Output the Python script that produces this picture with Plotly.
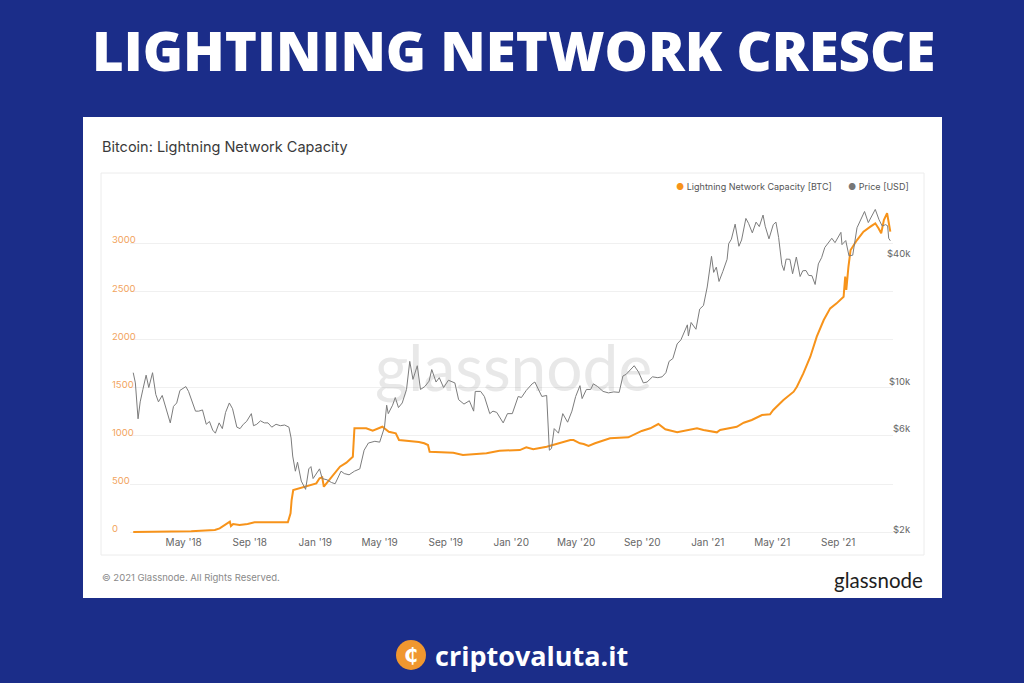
import math
import plotly.graph_objects as go

# ---------------- data ----------------
ln_dates = [
    "2018-01-27", "2018-02-20", "2018-03-15", "2018-04-14", "2018-05-15", "2018-06-10",
    "2018-06-28", "2018-07-07", "2018-07-16", "2018-07-26", "2018-07-28", "2018-08-01",
    "2018-08-13", "2018-08-28", "2018-09-10", "2018-09-29", "2018-10-20", "2018-11-11",
    "2018-11-16", "2018-11-18", "2018-11-21", "2018-12-03", "2018-12-16", "2019-01-03",
    "2019-01-09", "2019-01-14", "2019-01-17", "2019-01-22", "2019-02-03", "2019-02-16",
    "2019-02-28", "2019-03-12", "2019-03-15", "2019-04-06", "2019-04-18", "2019-05-06",
    "2019-05-18", "2019-05-31", "2019-06-06", "2019-07-13", "2019-07-23", "2019-07-30",
    "2019-08-02", "2019-09-15", "2019-10-03", "2019-11-16", "2019-12-10", "2020-01-17",
    "2020-01-29", "2020-02-11", "2020-03-07", "2020-04-01", "2020-04-20", "2020-04-26",
    "2020-05-08", "2020-05-15", "2020-05-24", "2020-06-05", "2020-07-03", "2020-08-06",
    "2020-08-31", "2020-09-16", "2020-10-01", "2020-10-14", "2020-11-05", "2020-12-12",
    "2020-12-24", "2021-01-18", "2021-01-24", "2021-02-24", "2021-03-09", "2021-03-24",
    "2021-04-12", "2021-04-27", "2021-05-03", "2021-05-22", "2021-06-10", "2021-06-16",
    "2021-06-28", "2021-07-11", "2021-07-23", "2021-08-05", "2021-08-17", "2021-08-29",
    "2021-09-11", "2021-09-14", "2021-09-16", "2021-09-20", "2021-09-24", "2021-10-06",
    "2021-10-18", "2021-10-31", "2021-11-09", "2021-11-15", "2021-11-20", "2021-11-25",
    "2021-12-01", "2021-12-07",
]
ln_values = [
    3, 4, 5, 7, 12, 18,
    24, 41, 76, 110, 65, 86,
    76, 86, 104, 104, 106, 104,
    197, 335, 439, 457, 473, 508,
    561, 571, 473, 508, 595, 681,
    723, 785, 1080, 1080, 1055, 1096,
    1044, 1028, 958, 938, 924, 906,
    837, 826, 802, 820, 847, 854,
    882, 862, 889, 930, 958, 958,
    924, 917, 896, 924, 976, 986,
    1052, 1080, 1124, 1069, 1038, 1080,
    1062, 1038, 1062, 1096, 1138, 1166,
    1218, 1225, 1270, 1373, 1460, 1511,
    1650, 1823, 2031, 2204, 2325, 2377,
    2446, 2654, 2516, 2757, 2931, 3034,
    3121, 3173, 3208, 3156, 3104, 3242,
    3312, 3121,
]

price_dates = [
    "2018-01-27", "2018-01-31", "2018-02-05", "2018-02-09", "2018-02-14", "2018-02-20",
    "2018-02-25", "2018-03-04", "2018-03-10", "2018-03-15", "2018-03-22", "2018-03-28",
    "2018-04-06", "2018-04-12", "2018-04-18", "2018-04-24", "2018-05-05", "2018-05-10",
    "2018-05-16", "2018-05-23", "2018-05-29", "2018-06-05", "2018-06-12", "2018-06-18",
    "2018-06-24", "2018-06-29", "2018-07-06", "2018-07-12", "2018-07-18", "2018-07-25",
    "2018-07-31", "2018-08-08", "2018-08-14", "2018-08-20", "2018-08-26", "2018-09-04",
    "2018-09-08", "2018-09-14", "2018-09-21", "2018-09-28", "2018-10-05", "2018-10-12",
    "2018-10-20", "2018-10-28", "2018-11-05", "2018-11-13", "2018-11-17", "2018-11-20",
    "2018-11-25", "2018-11-29", "2018-12-06", "2018-12-14", "2018-12-20", "2018-12-24",
    "2018-12-28", "2019-01-05", "2019-01-09", "2019-01-14", "2019-01-23", "2019-01-31",
    "2019-02-07", "2019-02-18", "2019-02-24", "2019-03-05", "2019-03-15", "2019-03-25",
    "2019-04-02", "2019-04-10", "2019-04-22", "2019-05-01", "2019-05-10", "2019-05-14",
    "2019-05-17", "2019-05-25", "2019-05-30", "2019-06-05", "2019-06-12", "2019-06-20",
    "2019-06-26", "2019-07-02", "2019-07-10", "2019-07-16", "2019-07-24", "2019-08-01",
    "2019-08-06", "2019-08-14", "2019-08-20", "2019-08-28", "2019-09-06", "2019-09-18",
    "2019-09-25", "2019-10-05", "2019-10-15", "2019-10-23", "2019-10-26", "2019-11-05",
    "2019-11-12", "2019-11-22", "2019-11-28", "2019-12-05", "2019-12-17", "2019-12-25",
    "2020-01-03", "2020-01-14", "2020-01-20", "2020-01-29", "2020-02-09", "2020-02-14",
    "2020-02-20", "2020-02-27", "2020-03-07", "2020-03-12", "2020-03-16", "2020-03-21",
    "2020-03-29", "2020-04-06", "2020-04-15", "2020-04-23", "2020-04-30", "2020-05-08",
    "2020-05-12", "2020-05-20", "2020-05-28", "2020-06-02", "2020-06-10", "2020-06-20",
    "2020-06-30", "2020-07-10", "2020-07-20", "2020-07-27", "2020-08-02", "2020-08-17",
    "2020-08-25", "2020-09-03", "2020-09-10", "2020-09-20", "2020-09-30", "2020-10-08",
    "2020-10-15", "2020-10-21", "2020-10-28", "2020-11-05", "2020-11-12", "2020-11-18",
    "2020-11-24", "2020-11-26", "2020-12-01", "2020-12-10", "2020-12-17", "2020-12-24",
    "2020-12-31", "2021-01-08", "2021-01-12", "2021-01-17", "2021-01-22", "2021-01-29",
    "2021-02-06", "2021-02-09", "2021-02-14", "2021-02-21", "2021-02-28", "2021-03-05",
    "2021-03-13", "2021-03-18", "2021-03-25", "2021-04-01", "2021-04-07", "2021-04-14",
    "2021-04-18", "2021-04-25", "2021-05-03", "2021-05-08", "2021-05-13", "2021-05-19",
    "2021-05-23", "2021-05-27", "2021-06-03", "2021-06-08", "2021-06-15", "2021-06-22",
    "2021-06-27", "2021-07-03", "2021-07-08", "2021-07-14", "2021-07-20", "2021-07-26",
    "2021-08-01", "2021-08-07", "2021-08-14", "2021-08-20", "2021-08-26", "2021-09-06",
    "2021-09-08", "2021-09-15", "2021-09-21", "2021-09-28", "2021-10-06", "2021-10-15",
    "2021-10-20", "2021-10-27", "2021-11-03", "2021-11-09", "2021-11-16", "2021-11-22",
    "2021-11-28", "2021-12-02", "2021-12-04", "2021-12-07",
]
price_values = [
    11400, 10200, 6900, 8300, 9500, 11100,
    9700, 11400, 9000, 8300, 8900, 7900,
    6600, 7900, 8200, 9400, 9800, 9300,
    8400, 7500, 7500, 7600, 6500, 6700,
    6100, 5900, 6600, 6200, 7400, 8200,
    7700, 6300, 6200, 6500, 6700, 7300,
    6400, 6500, 6750, 6600, 6600, 6300,
    6500, 6400, 6450, 6300, 5600, 4600,
    3900, 4300, 3500, 3200, 4000, 4100,
    3600, 3900, 4000, 3600, 3550, 3450,
    3400, 3900, 3800, 3750, 3900, 4000,
    4900, 5300, 5400, 5350, 6300, 8000,
    7300, 8000, 8700, 7800, 8200, 9500,
    12900, 10600, 12300, 9500, 9800, 10400,
    11800, 10300, 10800, 9700, 10500, 10200,
    8500, 8100, 8400, 7500, 9300, 9300,
    8800, 7300, 7500, 7400, 6600, 7300,
    7300, 8800, 8700, 9400, 10100, 10300,
    9600, 8800, 8900, 4900, 5000, 6200,
    5900, 7300, 6650, 7500, 8800, 9900,
    8600, 9500, 9500, 10100, 9800, 9300,
    9150, 9250, 9200, 11000, 11200, 12300,
    11500, 10200, 10300, 10900, 10800, 10900,
    11400, 12900, 13300, 15600, 16300, 17800,
    19200, 17000, 19700, 18300, 22800, 23700,
    29000, 40500, 34000, 36000, 30800, 34300,
    39200, 46500, 48800, 57500, 45200, 48400,
    61200, 58000, 52300, 58800, 56000, 63500,
    56200, 49000, 57200, 58800, 49700, 37000,
    34700, 39300, 39200, 33500, 40200, 32500,
    34600, 34700, 32900, 32800, 29800, 37300,
    39900, 44600, 47000, 49300, 47000, 52600,
    46000, 48100, 40700, 41000, 55300, 61600,
    66000, 58500, 62900, 67500, 60300, 56300,
    57200, 56500, 49300, 48000,
]

left_ticks = [0, 500, 1000, 1500, 2000, 2500, 3000]
right_ticks = [2000, 6000, 10000, 40000]
right_tick_text = ["$2k", "$6k", "$10k", "$40k"]

# ---------------- styling ----------------
W, H = 1024, 683
BG = "rgb(27,45,137)"
ORANGE = "#f7931a"
GRAY = "#7c7c7c"
FONT = "Inter"


def px(x):
    return x / W


def py(y):
    return 1 - y / H


fig = go.Figure()
fig.add_trace(go.Scatter(
    x=ln_dates, y=ln_values, mode="lines", yaxis="y",
    line=dict(color=ORANGE, width=2), name="Lightning Network Capacity [BTC]",
    showlegend=False,
))
fig.add_trace(go.Scatter(
    x=price_dates, y=price_values, mode="lines", yaxis="y2",
    line=dict(color=GRAY, width=1), name="Price [USD]", showlegend=False,
))

shapes = [
    # white card
    dict(type="rect", xref="paper", yref="paper", x0=px(83), x1=px(942), y0=py(598), y1=py(117),
         fillcolor="white", line=dict(width=0), layer="below"),
    # inner chart box
    dict(type="rect", xref="paper", yref="paper", x0=px(101), x1=px(924), y0=py(555), y1=py(173),
         fillcolor="rgba(0,0,0,0)", line=dict(color="#ececec", width=1), layer="below"),
    # logo circle
    dict(type="circle", xref="paper", yref="paper", x0=px(396), x1=px(426), y0=py(670), y1=py(640),
         fillcolor="#f0972f", line=dict(width=0), layer="above"),
]

annotations = [
    dict(text="LIGHTINING NETWORK CRESCE", x=px(513), y=py(50), xref="paper", yref="paper",
         showarrow=False, xanchor="center", yanchor="middle",
         font=dict(family="Open Sans", size=54.5, color="white", weight=800)),
    dict(text="Bitcoin: Lightning Network Capacity", x=px(100), y=py(147), xref="paper", yref="paper",
         showarrow=False, xanchor="left", yanchor="middle",
         font=dict(family=FONT, size=14.5, color="#3a3a3a")),
    dict(text="<span style='color:%s'>●</span> Lightning Network Capacity [BTC]" % ORANGE,
         x=px(834), y=py(186), xref="paper", yref="paper", showarrow=False,
         xanchor="right", yanchor="middle", font=dict(family=FONT, size=9, color="#555")),
    dict(text="<span style='color:#777'>●</span> Price [USD]",
         x=px(911), y=py(186), xref="paper", yref="paper", showarrow=False,
         xanchor="right", yanchor="middle", font=dict(family=FONT, size=9, color="#555")),
    dict(text="glassnode", x=px(513), y=py(366), xref="paper", yref="paper", showarrow=False,
         xanchor="center", yanchor="middle",
         font=dict(family="Lato", size=64, color="rgba(150,150,150,0.22)")),
    dict(text="© 2021 Glassnode. All Rights Reserved.", x=px(100), y=py(577), xref="paper", yref="paper",
         showarrow=False, xanchor="left", yanchor="middle",
         font=dict(family=FONT, size=9.5, color="#8a8a8a")),
    dict(text="glassnode", x=px(925), y=py(580), xref="paper", yref="paper",
         showarrow=False, xanchor="right", yanchor="middle",
         font=dict(family="Lato", size=20.5, color="#1e1e1e")),
    dict(text="₵", x=px(411), y=py(655), xref="paper", yref="paper", showarrow=False,
         xanchor="center", yanchor="middle",
         font=dict(family="DejaVu Sans", size=20, color="white", weight="bold")),
    dict(text="criptovaluta.it", x=px(433), y=py(655), xref="paper", yref="paper", showarrow=False,
         xanchor="left", yanchor="middle",
         font=dict(family="Open Sans", size=27, color="white", weight="bold")),
]

for v in left_ticks:
    annotations.append(dict(text=str(v), x=px(110), y=v, xref="paper", yref="y", yshift=3.5,
                            showarrow=False, xanchor="left", yanchor="middle",
                            font=dict(family=FONT, size=9.5, color="#f2a45e")))
for v, t in zip(right_ticks, right_tick_text):
    annotations.append(dict(text=t, x=px(913), y=math.log10(v), xref="paper", yref="y2", yshift=3.5,
                            showarrow=False, xanchor="right", yanchor="middle",
                            font=dict(family=FONT, size=9.5, color="#666666")))

fig.update_layout(
    width=W, height=H, autosize=False,
    margin=dict(l=0, r=0, t=0, b=0),
    paper_bgcolor=BG, plot_bgcolor="rgba(0,0,0,0)",
    showlegend=False,
    shapes=shapes, annotations=annotations,
    xaxis=dict(
        domain=[px(130), px(893)], type="date", range=["2018-01-21", "2021-12-12"],
        tick0="2018-01-01", dtick="M4", tickformat="%b '%y",
        showgrid=False, zeroline=False, showline=False,
        ticks="", ticklen=0,
        tickfont=dict(family=FONT, size=10, color="#666"),
    ),
    yaxis=dict(
        domain=[py(535), py(200)], range=[-28, 3450],
        tickvals=left_ticks, showticklabels=False,
        showgrid=True, gridcolor="#f0f0f0", gridwidth=1, zeroline=False, ticks="",
    ),
    yaxis2=dict(
        overlaying="y", side="right", type="log", range=[3.2892, 4.8739],
        tickvals=right_ticks, showticklabels=False, showgrid=False, zeroline=False, ticks="",
    ),
)

fig.write_html(
    "out.html",
    config={"displayModeBar": False},
    post_script="document.body.style.margin='0';document.body.style.padding='0';"
                "document.body.style.overflow='hidden';",
)
